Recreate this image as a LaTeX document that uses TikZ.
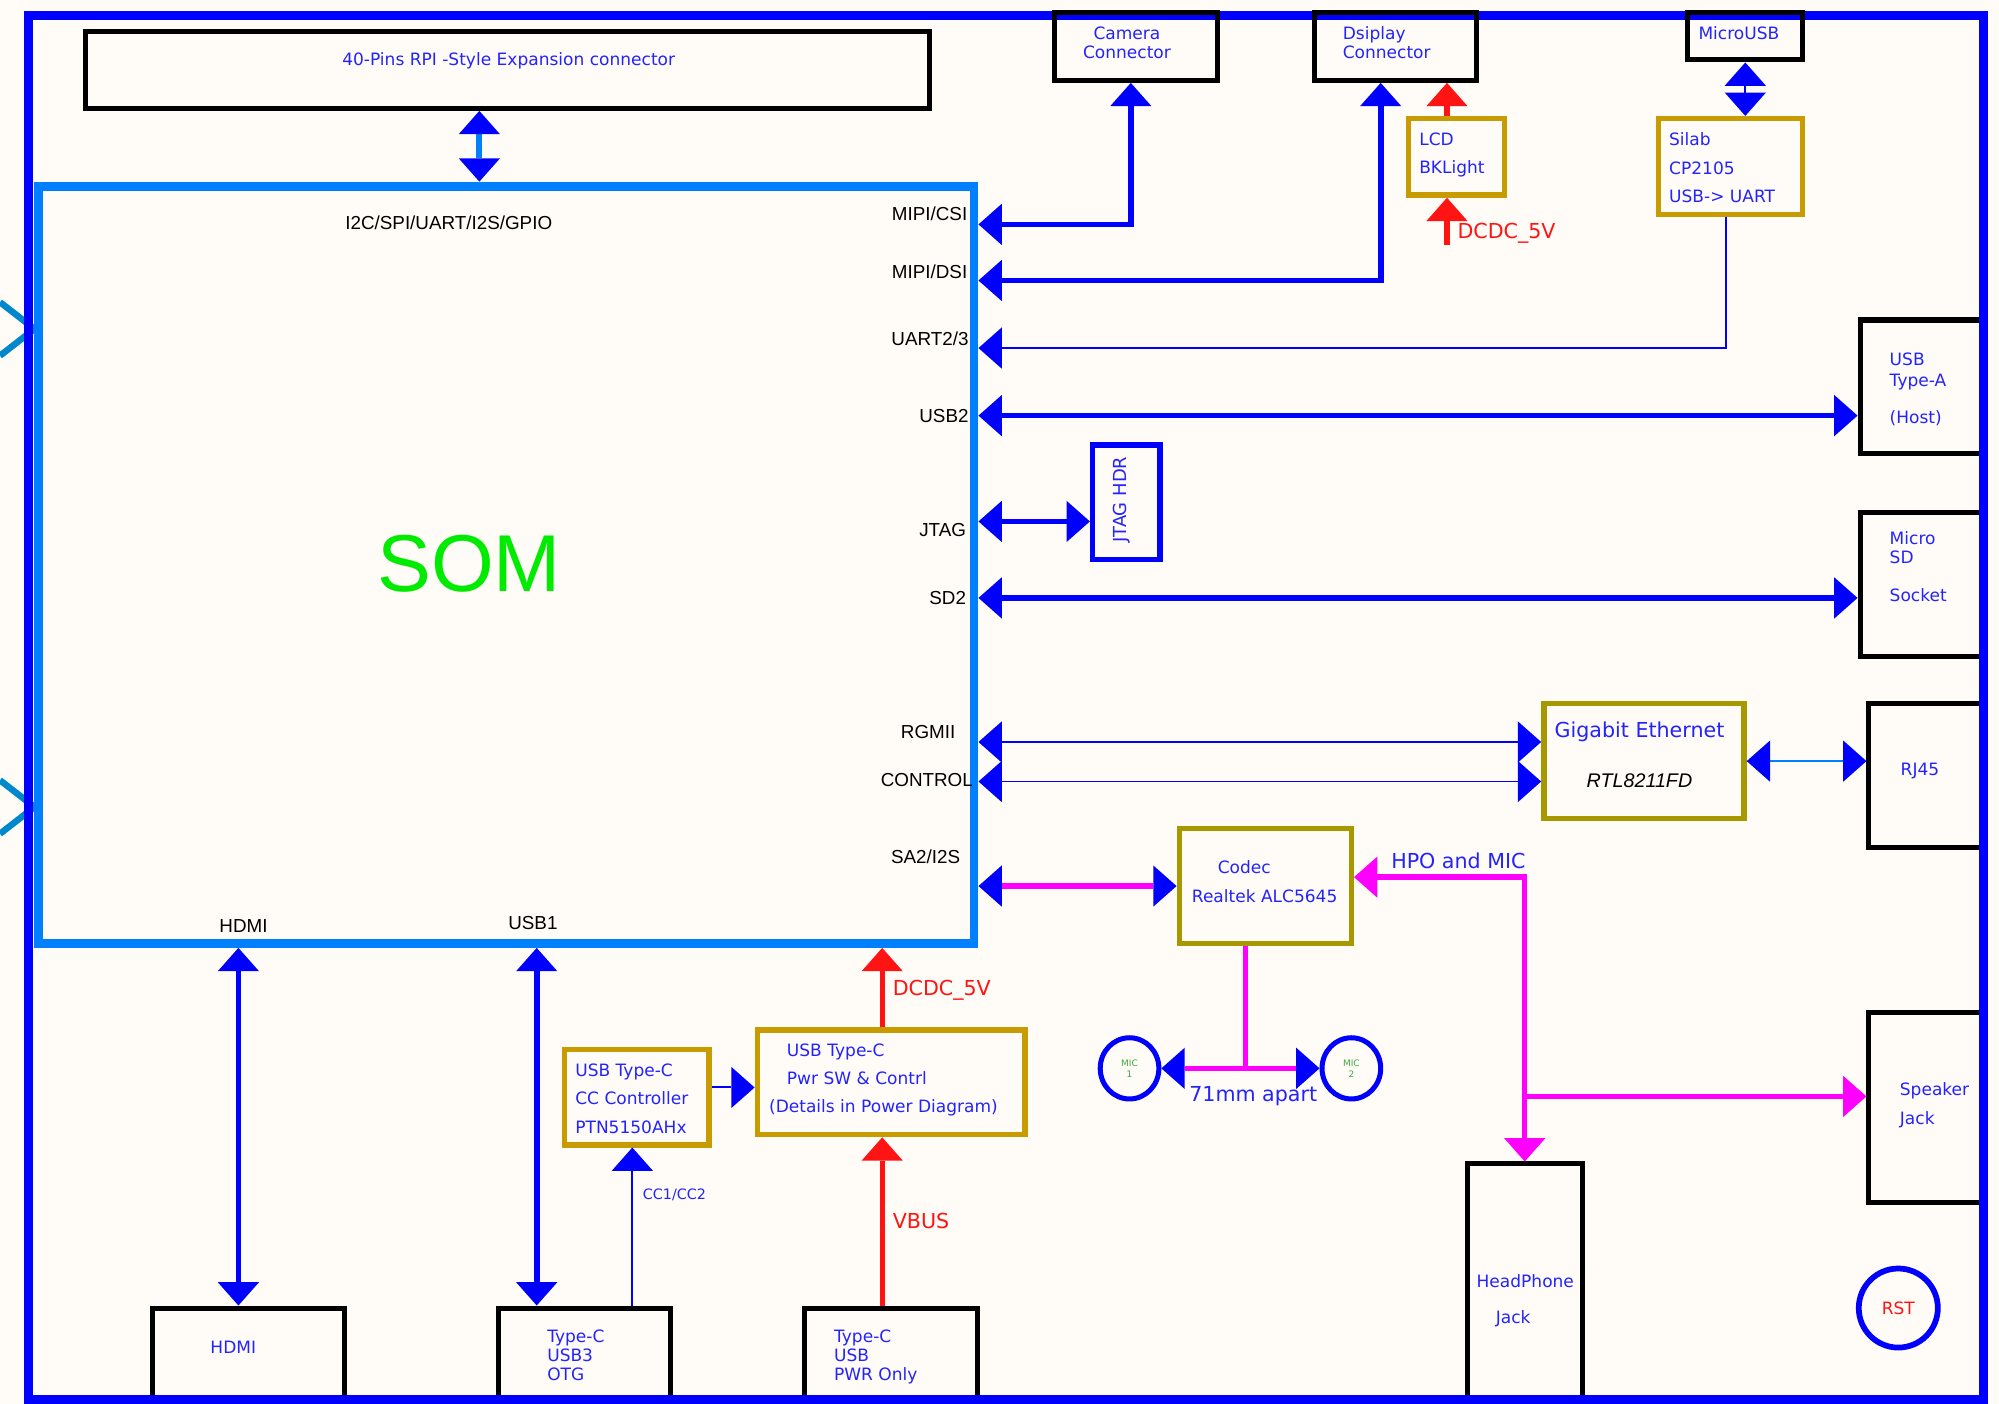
\documentclass[tikz,border=0pt]{standalone}
\usepackage{fontspec}
\setmainfont{DejaVu Sans}
\newfontfamily\arialfont{Liberation Sans}
\usetikzlibrary{positioning,arrows.meta,fit,shapes.geometric}

\definecolor{bgpaper}{RGB}{255,252,247}
\definecolor{framebl}{RGB}{0,0,255}
\definecolor{sombl}{RGB}{0,128,255}
\definecolor{chevbl}{RGB}{0,136,204}
\definecolor{txtbl}{RGB}{35,35,255}
\definecolor{goldc}{RGB}{200,155,0}
\definecolor{olivec}{RGB}{168,152,0}
\definecolor{magc}{RGB}{255,0,255}
\definecolor{redc}{RGB}{255,20,20}
\definecolor{somgreen}{RGB}{0,235,0}
\definecolor{micgreen}{RGB}{60,170,60}

\tikzset{
  bhead/.tip={Triangle[length=13pt,width=23pt,line width=0pt,color=framebl]},
  mhead/.tip={Triangle[length=13pt,width=23pt,line width=0pt,color=magc]},
  rhead/.tip={Triangle[length=13pt,width=23pt,line width=0pt,color=redc]}
}

\begin{document}
\begin{tikzpicture}[
  x=0.025cm, y=-0.025cm,
  font=\fontsize{9.5}{11}\selectfont,
  conbox/.style={draw=black, line width=2.8pt, inner sep=0pt},
  chipbox/.style={draw=goldc, line width=3pt, inner sep=0pt},
  olbox/.style={draw=olivec, line width=3pt, inner sep=0pt},
  pinlbl/.style={font=\arialfont\fontsize{10.5}{12}\selectfont, inner sep=0pt},
  note/.style={text=txtbl, inner sep=0pt, align=left},
  bignote/.style={note, font=\fontsize{11.5}{13}\selectfont},
  pwrnote/.style={bignote, text=redc},
  bus/.style={draw=framebl, line width=3.2pt},
  thinbus/.style={draw=framebl, line width=1.1pt},
  lbbus/.style={draw=sombl, line width=3.5pt},
  lbthin/.style={draw=sombl, line width=1.4pt},
  magbus/.style={draw=magc, line width=3pt},
  pwrbus/.style={draw=redc, line width=3pt}
]
\useasboundingbox (0,0) rectangle (1568,1101);
\fill[bgpaper] (0,0) rectangle (1568,1101);

% guide rows and columns
\coordinate (gpio) at (376,0);
\coordinate (camx) at (887,0);
\coordinate (dspx) at (1083,0);
\coordinate (bkx) at (1135,0);
\coordinate (uartx) at (1354,0);
\coordinate (musbx) at (1369,0);
\coordinate (micx) at (977,0);
\coordinate (hdmix) at (187,0);
\coordinate (usb1x) at (421,0);
\coordinate (ccx) at (496,0);
\coordinate (vx) at (692,0);
\coordinate (csi) at (0,176);
\coordinate (dsi) at (0,220);
\coordinate (uart) at (0,273);
\coordinate (usb2) at (0,326);
\coordinate (jtg) at (0,409);
\coordinate (sd2) at (0,469);
\coordinate (rgmii) at (0,582);
\coordinate (ctrl) at (0,613);
\coordinate (i2s) at (0,695);
\coordinate (hpo) at (0,688);
\coordinate (spkr) at (0,860);
\coordinate (ccp) at (0,853);
\coordinate (dcdcin) at (1135,192);

\draw[chevbl, line width=3.6pt] (0,237) -- (27,258) -- (0,279);
\draw[chevbl, line width=3.6pt] (0,612) -- (27,633) -- (0,654);

% blocks
\node[draw=sombl, line width=5pt, inner sep=0pt, fit={(30,146) (764,740)}] (som) {};
\node[conbox, fit={(67,25) (729,85)}] (pins) {};
\node[chipbox, fit={(1105,93) (1180,153)}] (lcd) {};
\node[chipbox, fit={(1301,93) (1414,168)}] (silab) {};
\node[conbox, fit={(1459,251) (1557,356)}] (usba) {};
\node[draw=framebl, line width=3pt, inner sep=0pt, fit={(857,349) (910,439)}] (jtag) {};
\node[conbox, fit={(1459,402) (1557,515)}] (sd) {};
\node[olbox, fit={(1211,552) (1368,642)}] (geth) {};
\node[conbox, fit={(1466,552) (1557,665)}] (rj45) {};
\node[olbox, fit={(925,650) (1060,740)}] (codec) {};
\node[conbox, fit={(1466,794) (1557,943)}] (spk) {};
\node[conbox, fit={(1151,913) (1241,1108)}] (hp) {};
\node[conbox, fit={(120,1026) (270,1108)}] (hdmi) {};
\node[conbox, fit={(391,1026) (526,1108)}] (usb3) {};
\node[chipbox, fit={(443,823) (556,898)}] (cc) {};
\node[chipbox, fit={(594,808) (804,890)}] (pwr) {};
\node[conbox, fit={(631,1026) (767,1108)}] (tcpwr) {};
\node[draw=framebl, line width=2.8pt, ellipse, minimum width=1.15cm, minimum height=1.2cm, inner sep=0pt,
  text=micgreen, font=\fontsize{5}{6}\selectfont, align=center] (mic1) at (886,838) {MIC\\1};
\node[draw=framebl, line width=2.8pt, ellipse, minimum width=1.15cm, minimum height=1.2cm, inner sep=0pt,
  text=micgreen, font=\fontsize{5}{6}\selectfont, align=center] (mic2) at (1060,838) {MIC\\2};
\node[draw=framebl, line width=3.2pt, circle, minimum size=1.55cm, inner sep=0pt, text=redc] (rst) at (1489,1026) {RST};

% texts
\node[note] (tpins) at (399,48) {40-Pins RPI -Style Expansion connector};
\node[pinlbl] (tgpio) at (352,175) {I2C/SPI/UART/I2S/GPIO};
\node[font=\arialfont\fontsize{45}{50}\selectfont, text=somgreen, inner sep=0pt] (tsom) at (368,442) {SOM};
\node[pinlbl, anchor=east] (tcsi) at (759,168) {MIPI/CSI};
\node[pinlbl, anchor=east] (tdsi) at (759,213) {MIPI/DSI};
\node[pinlbl, anchor=east] (tuart) at (760,266) {UART2/3};
\node[pinlbl, anchor=east] (tusb2) at (760,326) {USB2};
\node[pinlbl, anchor=east] (tjtag) at (758,416) {JTAG};
\node[pinlbl, anchor=east] (tsd2) at (758,469) {SD2};
\node[pinlbl] (trgmii) at (728,574) {RGMII};
\node[pinlbl] (tctrl) at (727,612) {CONTROL};
\node[pinlbl] (ti2s) at (726,672) {SA2/I2S};
\node[pinlbl] (thdmi) at (191,726) {HDMI};
\node[pinlbl] (tusb1) at (418,724) {USB1};
\node[note, font=\fontsize{9.5}{15.6}\selectfont, anchor=base west] (tlcd) at (1113,136) {LCD\\BKLight};
\node[note, font=\fontsize{9.5}{16}\selectfont, anchor=base west] (tsilab) at (1309,159) {Silab\\CP2105\\USB-> UART};
\node[note, font=\fontsize{9.5}{11.4}\selectfont, anchor=base west] (tusba) at (1482,332) {USB\\Type-A\\[9.2pt](Host)};
\node[note, font=\fontsize{10}{12}\selectfont, rotate=90] (tjhdr) at (880,392) {JTAG HDR};
\node[note, font=\fontsize{9.5}{10.7}\selectfont, anchor=base west] (tsd) at (1482,472) {Micro\\SD\\[10.6pt]Socket};
\node[bignote] (tgeth) at (1286,574) {Gigabit Ethernet};
\node[font=\arialfont\itshape\fontsize{11}{13}\selectfont, inner sep=0pt] (trtl) at (1286,612) {RTL8211FD};
\node[note] (trj) at (1506,605) {RJ45};
\node[note] (tcodec) at (976,680) {Codec};
\node[note] (talc) at (992,703) {Realtek ALC5645};
\node[bignote] (tapart) at (983,860) {71mm apart};
\node[bignote, anchor=west] (thpo) at (1091,675) {HPO and MIC};
\node[note, font=\fontsize{9.5}{16.4}\selectfont, anchor=base west] (tspk) at (1490,882) {Speaker\\Jack};
\node[note, anchor=west] (thp) at (1158,1005) {HeadPhone};
\node[note, anchor=west] (thpj) at (1173,1034) {Jack};
\node[note] (thdmib) at (183,1057) {HDMI};
\node[note, font=\fontsize{9.5}{10.7}\selectfont, anchor=base west] (tusb3) at (429,1083) {Type-C\\USB3\\OTG};
\node[note, font=\fontsize{9.5}{16}\selectfont, anchor=base west] (tcc) at (451,889) {USB Type-C\\CC Controller\\PTN5150AHx};
\node[note, font=\fontsize{9.5}{16}\selectfont, anchor=base west] (tpwr) at (617,851) {USB Type-C\\Pwr SW \& Contrl};
\node[note, anchor=west] (tpwrd) at (603,869) {(Details in Power Diagram)};
\node[note, font=\fontsize{9.5}{10.7}\selectfont, anchor=base west] (ttcp) at (654,1083) {Type-C\\USB\\PWR Only};
\node[note, font=\fontsize{8}{10}\selectfont, anchor=west] (tcc12) at (504,937) {CC1/CC2};
\node[pwrnote, anchor=west] (tdcdc1) at (1143,183) {DCDC\_5V};
\node[pwrnote, anchor=west] (tdcdc2) at (700,777) {DCDC\_5V};
\node[pwrnote, anchor=west] (tvbus) at (700,958) {VBUS};

% links
\draw[lbbus, bhead-bhead] (pins.south -| gpio) -- (som.north -| gpio);
\draw[bus, bhead-bhead] (som.east |- csi) -| (camx |- 0,65);
\draw[bus, bhead-bhead] (som.east |- dsi) -| (dspx |- 0,65);
\draw[pwrbus, -rhead] (lcd.north -| bkx) -- (bkx |- 0,65);
\draw[pwrbus, -rhead] (dcdcin) -- (lcd.south -| dcdcin);
\draw[thinbus, bhead-bhead] (musbx |- 0,49) -- (silab.north -| musbx);
\draw[thinbus, bhead-] (som.east |- uart) -| (silab.south -| uartx);
\draw[bus, bhead-bhead] (som.east |- usb2) -- (usba.west |- usb2);
\draw[bus, bhead-bhead] (som.east |- jtg) -- (jtag.west |- jtg);
\draw[bus, bhead-bhead] (som.east |- sd2) -- (sd.west |- sd2);
\draw[thinbus, bhead-bhead] (som.east |- rgmii) -- (geth.west |- rgmii);
\draw[thinbus, bhead-bhead] (som.east |- ctrl) -- (geth.west |- ctrl);
\draw[lbthin, bhead-bhead] (geth.east) -- (rj45.west |- geth.east);
\draw[magbus, bhead-bhead] (som.east |- i2s) -- (codec.west |- i2s);
\draw[magbus] (codec.south -| micx) -- (mic1.east -| micx);
\draw[magbus, bhead-bhead] (mic1.east) -- (mic2.west);
\draw[magbus, mhead-mhead] (codec.east |- hpo) -| (hp.north);
\draw[magbus, -mhead] (hp.north |- spkr) -- (spk.west |- spkr);
\draw[bus, bhead-bhead] (som.south -| hdmix) -- (hdmi.north -| hdmix);
\draw[bus, bhead-bhead] (som.south -| usb1x) -- (usb3.north -| usb1x);
\draw[thinbus, -bhead] (usb3.north -| ccx) -- (cc.south -| ccx);
\draw[thinbus, -bhead] (cc.east |- ccp) -- (pwr.west |- ccp);
\draw[pwrbus, -rhead] (pwr.north -| vx) -- (som.south -| vx);
\draw[pwrbus, -rhead] (tcpwr.north -| vx) -- (pwr.south -| vx);

% board outline and top connectors
\draw[framebl, line width=5pt] (22,12) rectangle (1556,1098);
\node[conbox, fit={(827,10) (955,63)}] (cam) {};
\node[conbox, fit={(1031,10) (1158,63)}] (dsp) {};
\node[conbox, fit={(1324,10) (1414,47)}] (musb) {};
\node[note, font=\fontsize{9.5}{10.7}\selectfont, align=center, anchor=base] (tcam) at (884,46) {Camera\\Connector};
\node[note, font=\fontsize{9.5}{10.7}\selectfont, anchor=base west] (tdsp) at (1053,46) {Dsiplay\\Connector};
\node[note] (tmusb) at (1364,26) {MicroUSB};
\end{tikzpicture}
\end{document}
